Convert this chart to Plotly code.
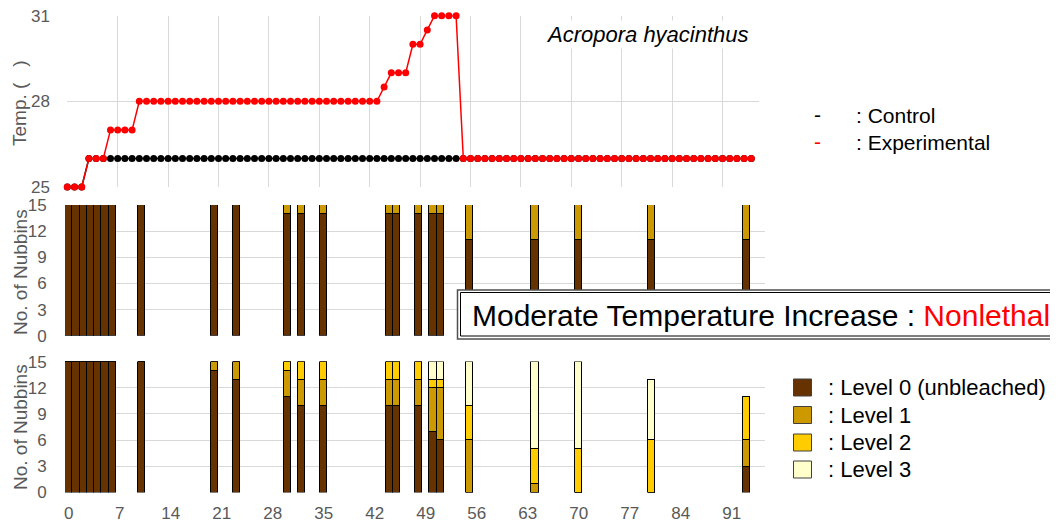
import plotly.graph_objects as go

# ---------------- data ----------------
temp_days = list(range(96))
control_temp = [25, 25, 25, 26, 26, 26, 26, 26, 26, 26,
                26, 26, 26, 26, 26, 26, 26, 26, 26, 26,
                26, 26, 26, 26, 26, 26, 26, 26, 26, 26,
                26, 26, 26, 26, 26, 26, 26, 26, 26, 26,
                26, 26, 26, 26, 26, 26, 26, 26, 26, 26,
                26, 26, 26, 26, 26, 26, 26, 26, 26, 26,
                26, 26, 26, 26, 26, 26, 26, 26, 26, 26,
                26, 26, 26, 26, 26, 26, 26, 26, 26, 26,
                26, 26, 26, 26, 26, 26, 26, 26, 26, 26,
                26, 26, 26, 26, 26, 26]
experimental_temp = [25, 25, 25, 26, 26, 26, 27, 27, 27, 27,
                     28, 28, 28, 28, 28, 28, 28, 28, 28, 28,
                     28, 28, 28, 28, 28, 28, 28, 28, 28, 28,
                     28, 28, 28, 28, 28, 28, 28, 28, 28, 28,
                     28, 28, 28, 28, 28.5, 29, 29, 29, 30, 30,
                     30.5, 31, 31, 31, 31, 26, 26, 26, 26, 26,
                     26, 26, 26, 26, 26, 26, 26, 26, 26, 26,
                     26, 26, 26, 26, 26, 26, 26, 26, 26, 26,
                     26, 26, 26, 26, 26, 26, 26, 26, 26, 26,
                     26, 26, 26, 26, 26, 26]

bar_days = [0, 1, 2, 3, 4, 5, 6, 10, 20, 23, 30, 32, 35, 44, 45, 48, 50, 51, 55, 64, 70, 80, 93]

# control panel (middle)
ctrl_l0 = [15, 15, 15, 15, 15, 15, 15, 15, 15, 15, 14, 14, 14, 14, 14, 14, 14, 14, 11, 11, 11, 11, 11]
ctrl_l1 = [0, 0, 0, 0, 0, 0, 0, 0, 0, 0, 1, 1, 1, 1, 1, 1, 1, 1, 4, 4, 4, 4, 4]

# experimental panel (bottom)
exp_l0 = [15, 15, 15, 15, 15, 15, 15, 15, 14, 13, 11, 10, 10, 10, 10, 10, 7, 6, 0, 0, 0, 0, 3]
exp_l1 = [0, 0, 0, 0, 0, 0, 0, 0, 1, 2, 3, 3, 3, 3, 3, 3, 5, 6, 6, 1, 0, 0, 3]
exp_l2 = [0, 0, 0, 0, 0, 0, 0, 0, 0, 0, 1, 2, 2, 2, 2, 2, 1, 1, 4, 4, 5, 6, 5]
exp_l3 = [0, 0, 0, 0, 0, 0, 0, 0, 0, 0, 0, 0, 0, 0, 0, 0, 2, 2, 5, 10, 10, 7, 0]

x_ticks = [0, 7, 14, 21, 28, 35, 42, 49, 56, 63, 70, 77, 84, 91]
level_names = [": Level 0 (unbleached)", ": Level 1", ": Level 2", ": Level 3"]
level_colors = ["#663300", "#cc9900", "#ffcc00", "#ffffcc"]

# ---------------- figure ----------------
W, H = 1058, 523
OFF = 8  # page body margin
FONT = "Liberation Sans, Arial, sans-serif"
GRID = "#d9d9d9"
TICKC = "#595959"


def px(x):
    return (x - OFF) / W


def py(y):
    return 1 - (y - OFF) / H


fig = go.Figure()

fig.add_trace(go.Scatter(x=temp_days, y=control_temp, mode="lines+markers",
                         line=dict(color="black", width=1.5),
                         marker=dict(color="black", size=7),
                         xaxis="x", yaxis="y", showlegend=False, cliponaxis=False))
fig.add_trace(go.Scatter(x=temp_days, y=experimental_temp, mode="lines+markers",
                         line=dict(color="#ff0000", width=1.5),
                         marker=dict(color="#ff0000", size=7),
                         xaxis="x", yaxis="y", showlegend=False, cliponaxis=False))

for vals, col in zip([ctrl_l0, ctrl_l1], level_colors[:2]):
    fig.add_trace(go.Bar(x=bar_days, y=vals, marker=dict(color=col, line=dict(color="black", width=1)),
                         width=1, xaxis="x2", yaxis="y2", showlegend=False))

for vals, col in zip([exp_l0, exp_l1, exp_l2, exp_l3], level_colors):
    fig.add_trace(go.Bar(x=bar_days, y=vals, marker=dict(color=col, line=dict(color="black", width=1)),
                         width=1, xaxis="x3", yaxis="y3", showlegend=False))

tickfont = dict(family=FONT, size=17, color=TICKC)

fig.update_layout(
    width=W, height=H, autosize=False,
    margin=dict(l=0, r=0, t=0, b=0, pad=0),
    paper_bgcolor="white", plot_bgcolor="white",
    barmode="stack", bargap=0,
    font=dict(family=FONT),
    xaxis=dict(domain=[px(67.3), px(758.5)], range=[0, 96], dtick=7, tick0=0,
               showgrid=True, gridcolor=GRID, gridwidth=1, showticklabels=False,
               zeroline=False, showline=False, ticks="", automargin=False),
    yaxis=dict(domain=[py(187.1), py(15.6)], range=[24.997, 31.003], tickvals=[25, 28, 31],
               showgrid=True, gridcolor=GRID, zeroline=False, showline=False,
               ticks="outside", ticklen=13, tickcolor="rgba(0,0,0,0)", tickfont=tickfont,
               automargin=False, ticklabeloverflow="allow"),
    xaxis2=dict(domain=[px(65), px(764.5)], range=[-0.5, 95.5], showgrid=False,
                showticklabels=False, zeroline=False, showline=False, ticks="",
                anchor="y2", automargin=False),
    yaxis2=dict(domain=[py(335.8), py(204.9)], range=[-0.01, 15.01], tickvals=[0, 3, 6, 9, 12, 15],
                showgrid=True, gridcolor=GRID, zeroline=False, showline=False,
                ticks="outside", ticklen=14, tickcolor="rgba(0,0,0,0)", tickfont=tickfont,
                anchor="x2", automargin=False, ticklabeloverflow="allow"),
    xaxis3=dict(domain=[px(65), px(764.5)], range=[-0.5, 95.5], tickvals=x_ticks,
                showgrid=False, zeroline=False, showline=False,
                ticks="outside", ticklen=5, tickcolor="rgba(0,0,0,0)", tickfont=tickfont,
                anchor="y3", automargin=False, ticklabeloverflow="allow"),
    yaxis3=dict(domain=[py(492.4), py(361.6)], range=[-0.01, 15.01], tickvals=[0, 3, 6, 9, 12, 15],
                showgrid=True, gridcolor=GRID, zeroline=False, showline=False,
                ticks="outside", ticklen=14, tickcolor="rgba(0,0,0,0)", tickfont=tickfont,
                anchor="x3", automargin=False, ticklabeloverflow="allow"),
)

ann = []
shapes = []
# axis titles
ytitle_font = dict(family=FONT, size=19, color=TICKC)
ann.append(dict(text="Temp. (\u00a0\u00a0\u00a0)", x=px(20), y=py(103), xref="paper", yref="paper",
                textangle=-90, showarrow=False, font=ytitle_font, xanchor="center", yanchor="middle"))
ann.append(dict(text="No. of Nubbins", x=px(20), y=py(272), xref="paper", yref="paper",
                textangle=-90, showarrow=False, font=ytitle_font, xanchor="center", yanchor="middle"))
ann.append(dict(text="No. of Nubbins", x=px(20), y=py(427), xref="paper", yref="paper",
                textangle=-90, showarrow=False, font=ytitle_font, xanchor="center", yanchor="middle"))

# species label
ann.append(dict(text="<i>Acropora hyacinthus</i>", x=px(751), y=py(34), xref="paper", yref="paper",
                showarrow=False, xanchor="right", yanchor="middle", bgcolor="white",
                font=dict(family=FONT, size=22, color="black")))

# temp legend
for label, col, yy in [(": Control", "black", 116), (": Experimental", "#ff0000", 143)]:
    ann.append(dict(text="-", x=px(817), y=py(yy - 1), xref="paper", yref="paper", showarrow=False,
                    xanchor="center", yanchor="middle", font=dict(family=FONT, size=21, color=col)))
    ann.append(dict(text=label, x=px(854), y=py(yy), xref="paper", yref="paper", showarrow=False,
                    xanchor="left", yanchor="middle", font=dict(family=FONT, size=21, color="black")))

# level legend
for name, col, yy in zip(level_names, level_colors, [387.5, 415, 442.5, 469.5]):
    shapes.append(dict(type="rect", xref="paper", yref="paper",
                       x0=px(793.5), x1=px(811.5), y0=py(yy + 8.5), y1=py(yy - 8.5),
                       fillcolor=col, line=dict(color="#404040", width=1), layer="above"))
    ann.append(dict(text=name, x=px(826), y=py(yy), xref="paper", yref="paper", showarrow=False,
                    xanchor="left", yanchor="middle", font=dict(family=FONT, size=22, color="black")))

# title box
shapes.append(dict(type="rect", xref="paper", yref="paper",
                   x0=px(457.5), x1=px(1057.5), y0=py(339), y1=py(290),
                   fillcolor="white", line=dict(color="#505050", width=1.5), layer="above"))
shapes.append(dict(type="rect", xref="paper", yref="paper",
                   x0=px(460.5), x1=px(1055), y0=py(336), y1=py(292.5),
                   fillcolor="white", line=dict(color="black", width=1), layer="above"))
ann.append(dict(text="Moderate Temperature Increase : <span style='color:#ff0000'>Nonlethal</span>",
                x=px(470), y=py(315), xref="paper", yref="paper", showarrow=False,
                xanchor="left", yanchor="middle", font=dict(family=FONT, size=30, color="black")))

fig.update_layout(annotations=ann, shapes=shapes)
fig.write_html("out.html")
